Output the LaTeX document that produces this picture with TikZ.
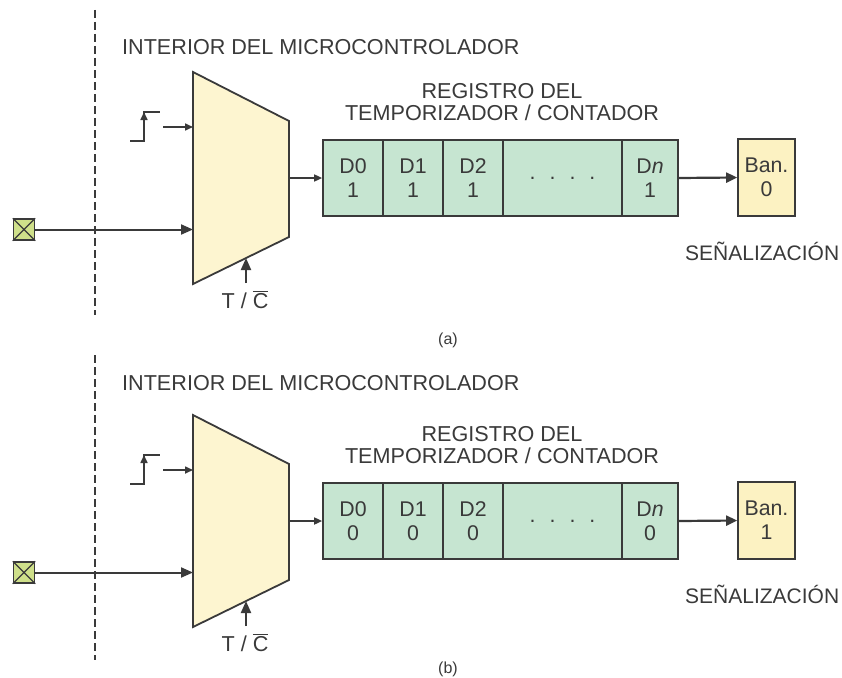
\documentclass[tikz,border=0pt]{standalone}
\usepackage{fontspec}
\setmainfont{Liberation Sans}
\usetikzlibrary{arrows.meta}
\definecolor{ink}{HTML}{3A3A3A}
\definecolor{trapfill}{HTML}{FDF5D0}
\definecolor{regfill}{HTML}{C6E5D1}
\definecolor{banfill}{HTML}{FCF2C2}
\definecolor{pinfill}{HTML}{CFE08A}
\tikzset{
  lbl/.style={text=ink, font=\fontsize{21.6pt}{24pt}\selectfont, inner sep=0pt},
  small/.style={text=ink, font=\fontsize{16pt}{19pt}\selectfont, inner sep=0pt},
  cell/.style={draw=ink, line width=1.7pt, fill=regfill, minimum height=76pt, text=ink,
    font=\fontsize{21.3pt}{24pt}\selectfont, align=center, inner sep=0pt},
  banbox/.style={draw=ink, line width=1.7pt, fill=banfill, minimum width=57pt, minimum height=77pt,
    text=ink, font=\fontsize{21.3pt}{24pt}\selectfont, align=center, inner sep=0pt},
  trap/.style={draw=ink, line width=1.8pt, fill=trapfill, line join=miter},
  pinbox/.style={draw=ink, line width=1.5pt, fill=pinfill, minimum size=21pt, inner sep=0pt},
  arrbig/.style={draw=ink, line width=2pt, -{Triangle[length=12pt,width=10pt]}},
  arrmid/.style={draw=ink, line width=2.2pt, -{Triangle[length=11pt,width=10pt]}},
  arrsmall/.style={draw=ink, line width=1.6pt, -{Triangle[length=8pt,width=7pt]}},
  wire/.style={draw=ink, line width=1.6pt},
  divider/.style={draw=ink, line width=2.2pt, dash pattern=on 8pt off 4pt},
}
\newcommand\mypanel[4]{%
\begin{scope}[shift={(0,#2)}, name prefix=#1-]
  % multiplexer
  \coordinate (tl) at (193,72);
  \coordinate (tr) at (289,121);
  \coordinate (br) at (289,237);
  \coordinate (bl) at (193,284);
  \draw[trap] (tl) -- (tr) -- (br) -- (bl) -- cycle;
  \coordinate (in1) at (193,127);
  \coordinate (in2) at (193,229.5);
  \coordinate (out) at (289,178);
  \coordinate (sel) at (246,258);
  % clock step symbol
  \coordinate (s1) at (130,141);
  \coordinate (s2) at (144,141);
  \coordinate (s3) at (144,112);
  \coordinate (s4) at (160,112);
  \coordinate (sm) at (144,128);
  \draw[wire] (s1) -- (s2) -- (s3) -- (s4);
  \draw[arrsmall] (sm) -- (s3);
  \coordinate (clk) at (163,127);
  \draw[arrsmall] (clk) -- (in1);
  % pin
  \node[pinbox] (pinsq) at (24,229.5) {};
  \draw[ink, line width=1.2pt] (pinsq.north west) -- (pinsq.south east)
                              (pinsq.north east) -- (pinsq.south west);
  \draw[arrbig] (pinsq.east) -- (in2);
  % T / C select
  \node[lbl, anchor=base] (tc) at (245,308) {T / $\overline{\mbox{C}}$};
  \coordinate (selsrc) at (246,283);
  \draw[arrbig] (selsrc) -- (sel);
  % register
  \node[lbl, anchor=base] (reg1) at (502,98) {REGISTRO DEL};
  \node[lbl, anchor=base] (reg2) at (502,120) {TEMPORIZADOR / CONTADOR};
  \node[cell, minimum width=60pt] (d0) at (353,178) {D0\\#3};
  \node[cell, minimum width=60pt] (d1) at (413,178) {D1\\#3};
  \node[cell, minimum width=60pt] (d2) at (473,178) {D2\\#3};
  \node[cell, minimum width=119pt] (dd) at (562.5,178) {.\hspace{14pt}.\hspace{14pt}.\hspace{14pt}.};
  \node[cell, minimum width=56pt] (dn) at (650,178) {D\textit{n}\\#3};
  \draw[arrsmall] (out) -- (d0.west);
  % flag
  \node[banbox] (ban) at (766.5,177.5) {Ban.\\#4};
  \draw[arrmid] (dn.east) -- (ban.west);
  \node[lbl, anchor=base west, font=\fontsize{21pt}{24pt}\selectfont] (senal) at (685,260) {SEÑALIZACIÓN};
\end{scope}}

\begin{document}
\begin{tikzpicture}[x=1pt, y=-1pt]
  \useasboundingbox[fill=white] (0,0) rectangle (842,677);
  % panel (a)
  \coordinate (da1) at (95,10);
  \coordinate (da2) at (95,315);
  \draw[divider] (da1) -- (da2);
  \node[lbl, anchor=base west] (ta) at (122,55) {INTERIOR DEL MICROCONTROLADOR};
  \mypanel{a}{0}{1}{0}
  \node[small, anchor=base] (capa) at (448,344) {(a)};
  % panel (b)
  \coordinate (db1) at (95,355);
  \coordinate (db2) at (95,660);
  \draw[divider] (db1) -- (db2);
  \node[lbl, anchor=base west] (tb) at (122,390) {INTERIOR DEL MICROCONTROLADOR};
  \mypanel{b}{343}{0}{1}
  \node[small, anchor=base] (capb) at (448,673) {(b)};
\end{tikzpicture}
\end{document}
